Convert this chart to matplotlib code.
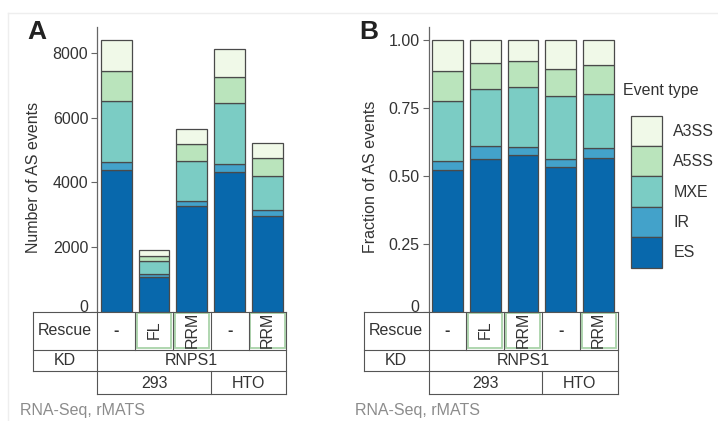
import matplotlib
matplotlib.use("Agg")
import matplotlib.pyplot as plt
import matplotlib.transforms as mtransforms
from matplotlib.patches import Rectangle
import numpy as np

plt.rcParams['font.family'] = ['Liberation Sans', 'DejaVu Sans']
plt.rcParams['font.size'] = 11.5
plt.rcParams['text.color'] = '#333333'

# --- data ---
event_types = ['ES', 'IR', 'MXE', 'A5SS', 'A3SS']
colors = ['#0868ac', '#43a2ca', '#7bccc4', '#bae4bc', '#f0f9e8']
rescue = ['-', 'FL', 'RRM', '-', 'RRM']
kd = 'RNPS1'
cell_lines = ['293', 'HTO']
cell_line_n = [3, 2]

counts_es = [4393, 1064, 3256, 4310, 2946]
counts_ir = [248, 104, 176, 248, 206]
counts_mxe = [1880, 392, 1219, 1892, 1055]
counts_a5ss = [921, 167, 548, 795, 547]
counts_a3ss = [952, 185, 444, 869, 465]

frac_es = [0.523, 0.562, 0.576, 0.531, 0.565]
frac_ir = [0.030, 0.048, 0.030, 0.029, 0.038]
frac_mxe = [0.224, 0.209, 0.220, 0.235, 0.200]
frac_a5ss = [0.109, 0.096, 0.096, 0.098, 0.105]
frac_a3ss = [0.114, 0.085, 0.078, 0.107, 0.092]

W, H = 718, 421
fig = plt.figure(figsize=(W / 100, H / 100), dpi=100)

y0 = 311.5      # pixel row of value 0
ytop = 27       # pixel row of top of spine
axw = 189
lefts = [97.3, 428.5]


def make_ax(left):
    return fig.add_axes([left / W, (H - y0) / H, axw / W, (y0 - ytop) / H])


def stacked(ax, series):
    x = np.arange(len(rescue))
    bottom = np.zeros(len(rescue))
    handles = []
    for name, vals, c in zip(event_types, series, colors):
        b = ax.bar(x, vals, bottom=bottom, width=0.82, color=c,
                   edgecolor='#4a4a4a', linewidth=0.9, label=name)
        handles.append(b)
        bottom += np.array(vals)
    ax.set_xlim(-0.5, len(rescue) - 0.5)
    for s in ['top', 'right', 'bottom']:
        ax.spines[s].set_visible(False)
    ax.spines['left'].set_color('#666666')
    ax.spines['left'].set_linewidth(0.9)
    ax.set_xticks([])
    ax.tick_params(axis='y', length=4, width=0.8, color='#666666',
                   labelsize=11.5, labelcolor='#333333', pad=2.5)
    return handles


axA = make_ax(lefts[0])
stacked(axA, [counts_es, counts_ir, counts_mxe, counts_a5ss, counts_a3ss])
axA.set_ylim(0, 8806)
axA.set_yticks([0, 2000, 4000, 6000, 8000])
axA.set_ylabel('Number of AS events', fontsize=11.5, color='#333333')
axA.yaxis.set_label_coords(-0.30, 0.472)

axB = make_ax(lefts[1])
handles = stacked(axB, [frac_es, frac_ir, frac_mxe, frac_a5ss, frac_a3ss])
axB.set_ylim(0, 1.048)
axB.set_yticks([0, 0.25, 0.5, 0.75, 1.0])
axB.set_yticklabels(['0', '0.25', '0.50', '0.75', '1.00'])
axB.set_ylabel('Fraction of AS events', fontsize=11.5, color='#333333')
axB.yaxis.set_label_coords(-0.265, 0.472)

# lift the "0" labels a little so they sit above the table
for ax in (axA, axB):
    lab = ax.get_yticklabels()[0]
    lab.set_transform(lab.get_transform() +
                      mtransforms.ScaledTranslation(0, 6 / 100, fig.dpi_scale_trans))

# overlay in pixel coordinates for tables, panel letters, legend title
ov = fig.add_axes([0, 0, 1, 1], zorder=5)
ov.set_xlim(0, W)
ov.set_ylim(H, 0)
ov.axis('off')
ov.patch.set_visible(False)

# faint panel frame
ov.plot([8, W], [13, 13], color='#eeeeee', lw=1)
ov.plot([8, 8], [13, H], color='#eeeeee', lw=1)

ov.text(27, 32, 'A', fontsize=19, fontweight='bold', color='#222222',
        ha='left', va='center')
ov.text(359, 32, 'B', fontsize=19, fontweight='bold', color='#222222',
        ha='left', va='center')

lc = '#555555'
lw = 0.8
r1, r2, r3, r4 = 311.7, 349.5, 371, 394
colw = axw / len(rescue)
for left, outer in zip(lefts, [33, 364]):
    right = left + axw
    ov.add_patch(Rectangle((outer, r1), right - outer, r4 - r1,
                           facecolor='white', edgecolor='none', zorder=1))
    ov.plot([outer, right], [r1, r1], color=lc, lw=lw)
    ov.plot([outer, right], [r2, r2], color=lc, lw=lw)
    ov.plot([outer, right], [r3, r3], color=lc, lw=lw)
    ov.plot([left, right], [r4, r4], color=lc, lw=lw)
    ov.plot([outer, outer], [r1, r3], color=lc, lw=lw)
    ov.plot([left, left], [r1, r4], color=lc, lw=lw)
    ov.plot([right, right], [r1, r4], color=lc, lw=lw)
    ov.text((outer + left) / 2, (r1 + r2) / 2, 'Rescue', ha='center', va='center')
    ov.text((outer + left) / 2, (r2 + r3) / 2, 'KD', ha='center', va='center')
    ov.text((left + right) / 2, (r2 + r3) / 2 + 0.5, kd, ha='center', va='center')
    for k, lab in enumerate(rescue):
        cx = left + (k + 0.5) * colw
        if k > 0:
            ov.plot([left + k * colw] * 2, [r1, r2], color=lc, lw=lw)
        if lab == '-':
            ov.text(cx, (r1 + r2) / 2, '-', ha='center', va='center',
                    fontweight='bold')
        else:
            ov.add_patch(Rectangle((left + k * colw + 1.8, r1 + 1.5),
                                   colw - 3.6, r2 - r1 - 3,
                                   facecolor='none', edgecolor='#a9d3a9', lw=1.3))
            ov.text(cx, (r1 + r2) / 2 - 0.5, lab, ha='center', va='center',
                    rotation=90, rotation_mode='anchor')
    start = 0
    for name, n in zip(cell_lines, cell_line_n):
        ov.text(left + (start + n / 2) * colw, (r3 + r4) / 2 + 0.5, name,
                ha='center', va='center')
        start += n
        if start < len(rescue):
            ov.plot([left + start * colw] * 2, [r3, r4], color=lc, lw=lw)

ov.text(20, 411, 'RNA-Seq, rMATS', color='#8c8c8c', ha='left', va='center')
ov.text(355, 411, 'RNA-Seq, rMATS', color='#8c8c8c', ha='left', va='center')

# legend
ov.text(623, 90, 'Event type', ha='left', va='center')
leg = fig.legend(handles[::-1], event_types[::-1], loc='upper left',
                 bbox_to_anchor=(631 / W, (H - 115.7) / H),
                 frameon=False, borderpad=0, borderaxespad=0,
                 labelspacing=0, handlelength=1.93, handleheight=2.55,
                 handletextpad=0.72, fontsize=11.5)
for t in leg.get_texts():
    t.set_color('#333333')

fig.savefig('out.png', dpi=100)
